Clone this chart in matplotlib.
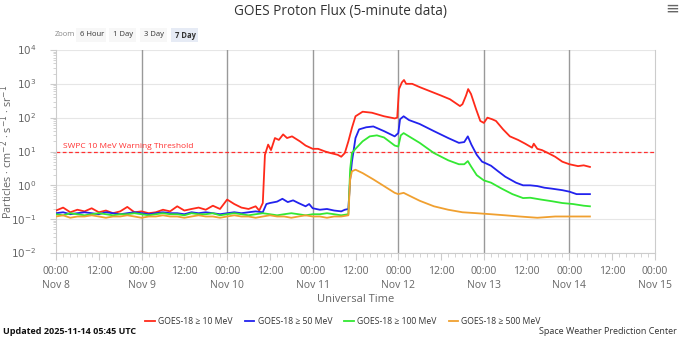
import matplotlib
matplotlib.use("Agg")
import matplotlib.pyplot as plt
from matplotlib.patches import FancyBboxPatch
import numpy as np

plt.rcParams['font.family'] = ['Open Sans', 'DejaVu Sans']

# ---------------- data (hours since 2025-11-08 00:00 UTC) ----------------
base_hours = list(range(0, 58, 2))

red_hours = base_hours + [57, 58, 58.6, 59.5, 60.3, 61.4, 62.5, 63.7, 64.8, 66.2, 67.2, 68.4, 70, 72, 73.5,
                          75.5, 77, 79, 80, 81, 82, 83, 84, 86, 88.6, 92, 95, 95.7, 96.2, 97, 97.6,
                          98.2, 99.9, 102, 105, 108, 110.5, 113.3, 114, 115, 115.6, 116.4, 117.8, 119,
                          120, 121, 122.3, 123.4, 125.4, 127.3, 129.6, 131.6, 133.5, 134, 135, 136.3,
                          138, 140, 142, 144, 146.4, 148, 149.75]
red_vals = [0.18, 0.22, 0.16, 0.19, 0.17, 0.21, 0.16, 0.18, 0.15, 0.17, 0.23, 0.16, 0.17, 0.15, 0.16,
            0.19, 0.17, 0.24, 0.18, 0.20, 0.22, 0.19, 0.25, 0.20, 0.38, 0.28, 0.22, 0.20, 0.24] + \
           [0.18, 0.3, 8.0, 16, 11, 25, 22, 32, 25, 28, 24, 20, 15, 12, 12,
            10, 9, 8, 7, 9, 20, 50, 110, 150, 140, 110, 95, 100, 700, 1100, 1300,
            1000, 1000, 800, 600, 450, 350, 220, 250, 450, 700, 500, 180, 80,
            70, 100, 90, 80, 45, 28, 22, 17, 13, 17, 12, 11,
            9, 7, 5, 4.2, 3.7, 3.9, 3.5]

blue_hours = base_hours + [58, 59, 60, 62, 63.5, 65, 66.5, 68, 70, 71, 72, 74, 76, 78, 80, 81, 82, 82.5,
                           83, 84, 85, 87, 89, 92, 95, 96, 96.5, 97.5, 99, 102, 106, 110, 113, 114.5,
                           115.5, 116.5, 118, 119.5, 120.5, 122, 124, 126, 129, 131, 133, 135, 137,
                           139, 142, 144, 146, 148, 149.75]
blue_vals = [0.15, 0.16, 0.14, 0.15, 0.16, 0.15, 0.14, 0.16, 0.15, 0.14, 0.15, 0.16, 0.15, 0.14, 0.15,
             0.16, 0.15, 0.15, 0.14, 0.16, 0.15, 0.16, 0.15, 0.14, 0.15, 0.16, 0.15, 0.16, 0.17] + \
            [0.16, 0.28, 0.30, 0.33, 0.40, 0.32, 0.36, 0.30, 0.24, 0.28, 0.21, 0.19, 0.20, 0.18, 0.17,
             0.19, 0.20, 1.5, 5, 25, 45, 52, 55, 40, 28, 35, 90, 110, 85, 65, 40, 25, 18, 19,
             28, 16, 8, 5, 4.5, 3.8, 2.6, 1.8, 1.2, 1.0, 1.0, 0.95, 0.85,
             0.8, 0.72, 0.65, 0.55, 0.55, 0.55]

green_hours = list(range(0, 84, 2)) + [82.5, 83, 84, 86, 88, 90, 92, 95, 96, 96.7, 97.5, 99, 102, 106,
                                       110, 113, 114.5, 115.5, 116.5, 118, 120, 122, 125, 128, 131,
                                       133, 136, 139, 142, 145, 148, 149.75]
green_vals = [0.14, 0.13, 0.15, 0.14, 0.13, 0.14, 0.15, 0.14, 0.13, 0.14, 0.14, 0.15, 0.14, 0.13,
              0.14, 0.15, 0.14, 0.14, 0.13, 0.15, 0.14, 0.14, 0.15, 0.13, 0.14, 0.15, 0.14, 0.13,
              0.14, 0.15, 0.14, 0.13, 0.14, 0.15, 0.14, 0.13, 0.14, 0.14, 0.15, 0.14, 0.13, 0.14] + \
             [3, 9, 12, 20, 28, 30, 26, 15, 14, 30, 35, 28, 18, 9,
              5.5, 4.2, 4.2, 5.2, 3.5, 2, 1.4, 1.2, 0.8, 0.55, 0.42,
              0.43, 0.38, 0.34, 0.30, 0.28, 0.25, 0.24]

orange_hours = list(range(0, 84, 2)) + [82.5, 83, 84, 86, 89, 92, 95, 96, 97.5, 99, 102, 106, 110,
                                        114, 118, 122, 126, 130, 135, 140, 145, 149.75]
orange_vals = [0.12, 0.13, 0.11, 0.12, 0.12, 0.13, 0.12, 0.11, 0.12, 0.12, 0.13, 0.12, 0.11, 0.12,
               0.12, 0.13, 0.12, 0.12, 0.11, 0.12, 0.13, 0.12, 0.12, 0.11, 0.12, 0.13, 0.12, 0.12,
               0.11, 0.12, 0.13, 0.12, 0.12, 0.11, 0.12, 0.13, 0.12, 0.12, 0.11, 0.12, 0.12, 0.13] + \
              [1.5, 2.6, 2.9, 2.3, 1.5, 0.95, 0.6, 0.55, 0.6, 0.5, 0.35, 0.24, 0.19,
               0.16, 0.15, 0.14, 0.13, 0.12, 0.11, 0.12, 0.12, 0.12]

series_names = ["GOES-18 \u2265 10 MeV", "GOES-18 \u2265 50 MeV", "GOES-18 \u2265 100 MeV", "GOES-18 \u2265 500 MeV"]
series_colors = ["#ff2a1a", "#2222ee", "#33e833", "#f0a030"]

threshold = 10
x_tick_hours = list(range(0, 169, 12))
x_tick_labels = ["00:00\nNov 8", "12:00", "00:00\nNov 9", "12:00", "00:00\nNov 10", "12:00",
                 "00:00\nNov 11", "12:00", "00:00\nNov 12", "12:00", "00:00\nNov 13", "12:00",
                 "00:00\nNov 14", "12:00", "00:00\nNov 15"]
y_ticks = [1e-2, 1e-1, 1e0, 1e1, 1e2, 1e3, 1e4]
y_tick_labels = ["$10^{-2}$", "$10^{-1}$", "$10^{0}$", "$10^{1}$", "$10^{2}$", "$10^{3}$", "$10^{4}$"]

# ---------------- figure ----------------
W, H = 680, 337
fig = plt.figure(figsize=(W / 100, H / 100), dpi=100)
ax = fig.add_axes([56 / W, (H - 253) / H, (655 - 56) / W, (253 - 50) / H])

ax.set_yscale("log")
ax.set_ylim(1e-2, 1e4)
ax.set_xlim(0, 168)

# grids
for yv in y_ticks:
    ax.axhline(yv, color="#e6e6e6", lw=0.8, zorder=0)
for xv in range(24, 168, 24):
    ax.axvline(xv, color="#999999", lw=1.0, zorder=0.5)

for hrs, vals, c, name in zip([red_hours, blue_hours, green_hours, orange_hours],
                              [red_vals, blue_vals, green_vals, orange_vals],
                              series_colors, series_names):
    ax.plot(hrs, vals, color=c, lw=1.3, label=name, zorder=3)

ax.axhline(threshold, color="#ff3030", lw=0.9, ls=(0, (3, 2)), zorder=2)
ax.text(2, threshold * 1.12, "SWPC 10 MeV Warning Threshold", color="#ff3030", fontsize=6,
        ha="left", va="bottom")

ax.set_xticks(x_tick_hours)
ax.set_xticklabels(x_tick_labels, fontsize=7.5, color="#666666", linespacing=1.5)
ax.set_xticks(list(range(0, 169, 2)), minor=True)
ax.set_yticks(y_ticks)
ax.set_yticklabels(y_tick_labels, fontsize=7.5, color="#666666")
ax.tick_params(axis="x", which="major", length=5, color="#cccccc", pad=4)
ax.tick_params(axis="x", which="minor", length=3, color="#cccccc")
ax.tick_params(axis="y", which="major", length=4, color="#cccccc", pad=10)
ax.tick_params(axis="y", which="minor", length=2, color="#cccccc")

for s in ["top"]:
    ax.spines[s].set_visible(False)
for s in ["left", "bottom", "right"]:
    ax.spines[s].set_color("#cccccc")
    ax.spines[s].set_linewidth(0.8)

ax.set_xlabel("Universal Time", fontsize=8, color="#666666", labelpad=2)
ax.set_ylabel("Particles \u00b7 cm$^{-2}$ \u00b7 s$^{-1}$ \u00b7 sr$^{-1}$", fontsize=7.8, color="#666666")
ax.yaxis.set_label_coords(-0.068, 0.5)

# title
fig.text(341 / W, 1 - 11 / H, "GOES Proton Flux (5-minute data)", fontsize=9.8, color="#333333",
         ha="center", va="center")
fig.text(672 / W, 1 - 10 / H, "\u2261", fontsize=12, color="#666666", ha="center", va="center")

# zoom buttons
fig.text(55 / W, 1 - 35 / H, "Zoom", fontsize=5.5, color="#888888", ha="left", va="center")
btns = [("6 Hour", 80), ("1 Day", 113), ("3 Day", 144), ("7 Day", 175)]
for lbl, bx in btns:
    bg = "#e6ebf5" if lbl == "7 Day" else "#f7f7f7"
    w = 30 if lbl == "6 Hour" else 27
    fig.patches.append(FancyBboxPatch(((bx - 4) / W, 1 - 42 / H), w / W, 14 / H,
                                      boxstyle="square,pad=0", transform=fig.transFigure,
                                      facecolor=bg, edgecolor="none"))
    fig.text(bx / W, 1 - 35 / H, lbl, fontsize=5.5, color="#333333", ha="left", va="center",
             fontweight="bold" if lbl == "7 Day" else "normal")

# legend
leg = fig.legend(loc="center", bbox_to_anchor=(343 / W, 1 - 322 / H), ncol=4, frameon=False,
                 fontsize=6.2, handlelength=1.1, handletextpad=0.4, columnspacing=1.4)
for t in leg.get_texts():
    t.set_color("#333333")

fig.text(3 / W, 1 - 331 / H, "Updated 2025-11-14 05:45 UTC", fontsize=6.5, color="#111111",
         ha="left", va="center", fontweight="bold")
fig.text(677 / W, 1 - 332 / H, "Space Weather Prediction Center", fontsize=6.5, color="#333333",
         ha="right", va="center")

fig.savefig("out.png", dpi=100)
